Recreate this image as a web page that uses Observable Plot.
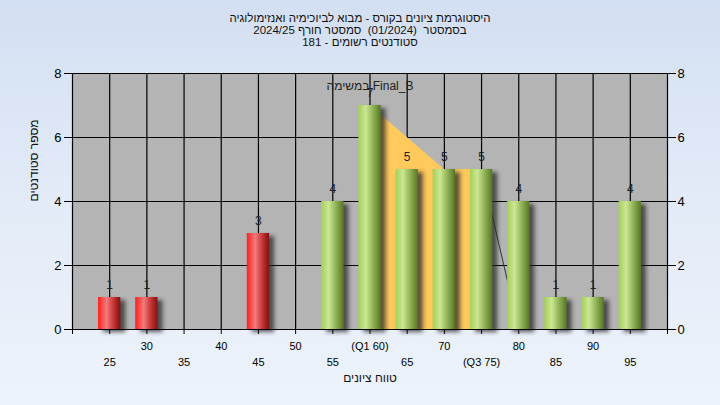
<!DOCTYPE html>
<html><head><meta charset="utf-8">
<script src="https://cdn.jsdelivr.net/npm/d3@7"></script>
<script src="https://cdn.jsdelivr.net/npm/@observablehq/plot@0.6"></script>
<style>
html,body{margin:0;padding:0;}
body{width:720px;height:405px;overflow:hidden;background:linear-gradient(to bottom,#d3dff2 0%,#e3ebf8 50%,#edf3fb 100%);font-family:"Liberation Sans",Arial,sans-serif;}
#title{height:60px;box-sizing:border-box;padding-top:12px;text-align:center;font-size:11.5px;line-height:12px;color:#111;white-space:pre;direction:rtl;}
#chart svg{display:block;}
</style></head><body>
<div id="title"></div>
<div id="chart"></div>
<script>
// ---- data ----
const titleLines = [
  "היסטוגרמת ציונים בקורס - מבוא לביוכימיה ואנזימולוגיה",
  "בסמסטר  (01/2024)  סמסטר חורף 2024/25",
  "סטודנטים רשומים - 181"
];
const xTitle = "טווח ציונים";
const yTitle = "מספר סטודנטים";
const annotText = "במשימה Final_B";
const annotX = 60;

const grades = [25, 30, 45, 55, 60, 65, 70, 75, 80, 85, 90, 95];
const counts = [1, 1, 3, 4, 7, 5, 5, 5, 4, 1, 1, 4];
const passGrade = 55;

const quartileX = [60, 70, 75];
const quartileY = [7, 5, 5];
const tailX = [75, 80];
const tailY = [5, 0];

const yTicks = [0, 2, 4, 6, 8];
const xTicks = [20, 25, 30, 35, 40, 45, 50, 55, 60, 65, 70, 75, 80, 85, 90, 95, 100];
const topRowTicks = [30, 40, 50, 60, 70, 80, 90];
const topRowLabels = ["30", "40", "50", "(Q1 60)", "70", "80", "90"];
const bottomRowTicks = [25, 35, 45, 55, 65, 75, 85, 95];
const bottomRowLabels = ["25", "35", "45", "55", "65", "(Q3 75)", "85", "95"];

// ---- title ----
const titleEl = document.getElementById("title");
titleLines.forEach(line => {
  const div = document.createElement("div");
  div.textContent = line;
  titleEl.appendChild(div);
});

const data = grades.map((g, i) => ({grade: g, count: counts[i]}));
const quartile = quartileX.map((x, i) => ({x, y: quartileY[i]}));
const tail = tailX.map((x, i) => ({x, y: tailY[i]}));
const half = 1.5;

const plot = Plot.plot({
  width: 720, height: 345,
  marginTop: 13, marginBottom: 76, marginLeft: 72, marginRight: 53,
  style: {background: "transparent", fontFamily: "Liberation Sans, Arial, sans-serif", color: "black", overflow: "visible"},
  x: {domain: [20, 100]},
  y: {domain: [0, 8]},
  marks: [
    Plot.frame({fill: "#b4b4b4", stroke: null}),
    Plot.ruleX(xTicks.slice(1, -1), {stroke: "black", strokeWidth: 1.2}),
    Plot.ruleY([2, 4, 6, 8], {stroke: "black", strokeWidth: 1.2}),
    Plot.areaY(quartile, {x: "x", y: "y", fill: "#ffc95c"}),
    Plot.line(tail, {x: "x", y: "y", stroke: "#333", strokeWidth: 1}),
    Plot.rectY(data.filter(d => d.grade < passGrade), {x1: d => d.grade - half, x2: d => d.grade + half, y: "count", fill: "url(#gradRed)"}),
    Plot.rectY(data.filter(d => d.grade >= passGrade), {x1: d => d.grade - half, x2: d => d.grade + half, y: "count", fill: "url(#gradGreen)"}),
    Plot.text(data, {x: "grade", y: "count", text: d => String(d.count), dy: -12, fontSize: 12, fill: "#222"}),
    Plot.text([annotText], {x: () => annotX, y: () => 8, dy: 13, text: d => d, fontSize: 12, fill: "#222"}),
    Plot.ruleY([0], {stroke: "black", strokeWidth: 1.2}),
    Plot.ruleX([20, 100], {stroke: "black", strokeWidth: 1.2}),
    Plot.axisY({ticks: yTicks, anchor: "left", tickSize: 8, tickPadding: 3, fontSize: 13, label: null}),
    Plot.axisY({ticks: yTicks, anchor: "right", tickSize: 8, tickPadding: 2, fontSize: 13, label: null}),
    Plot.axisX({ticks: xTicks, tickSize: 5, tickFormat: () => "", label: null}),
    Plot.axisX({ticks: topRowTicks, tickSize: 0, tickPadding: 13, fontSize: 11, label: null, tickFormat: d => topRowLabels[topRowTicks.indexOf(d)]}),
    Plot.axisX({ticks: bottomRowTicks, tickSize: 0, tickPadding: 29, fontSize: 11, label: null, tickFormat: d => bottomRowLabels[bottomRowTicks.indexOf(d)]}),
    Plot.text([xTitle], {frameAnchor: "bottom", dy: 52, text: d => d, fontSize: 12, fill: "#111"}),
    Plot.text([yTitle], {frameAnchor: "left", dx: -38, rotate: -90, text: d => d, fontSize: 12, fill: "#111"})
  ]
});

const svg = d3.select(plot);
const defs = svg.insert("defs", ":first-child");
function grad(id, stops) {
  const g = defs.append("linearGradient").attr("id", id).attr("x1", 0).attr("x2", 1).attr("y1", 0).attr("y2", 0);
  stops.forEach(([o, c]) => g.append("stop").attr("offset", o).attr("stop-color", c));
}
grad("gradRed", [[0, "#ff1e1e"], [0.38, "#f07c7c"], [0.65, "#cf3c3c"], [0.88, "#9c1e1e"], [1, "#7a1414"]]);
grad("gradGreen", [[0, "#a4cf58"], [0.33, "#cbe793"], [0.62, "#97b85c"], [0.88, "#6a8c34"], [1, "#557528"]]);
const f = defs.append("filter").attr("id", "shadow").attr("x", "-20%").attr("y", "-20%").attr("width", "150%").attr("height", "150%");
f.append("feDropShadow").attr("dx", 5).attr("dy", 3).attr("stdDeviation", 2).attr("flood-color", "#2a2a2a").attr("flood-opacity", 0.75);
svg.selectAll('g[aria-label="rect"]').attr("filter", "url(#shadow)");

document.getElementById("chart").appendChild(plot);
</script>
</body></html>
